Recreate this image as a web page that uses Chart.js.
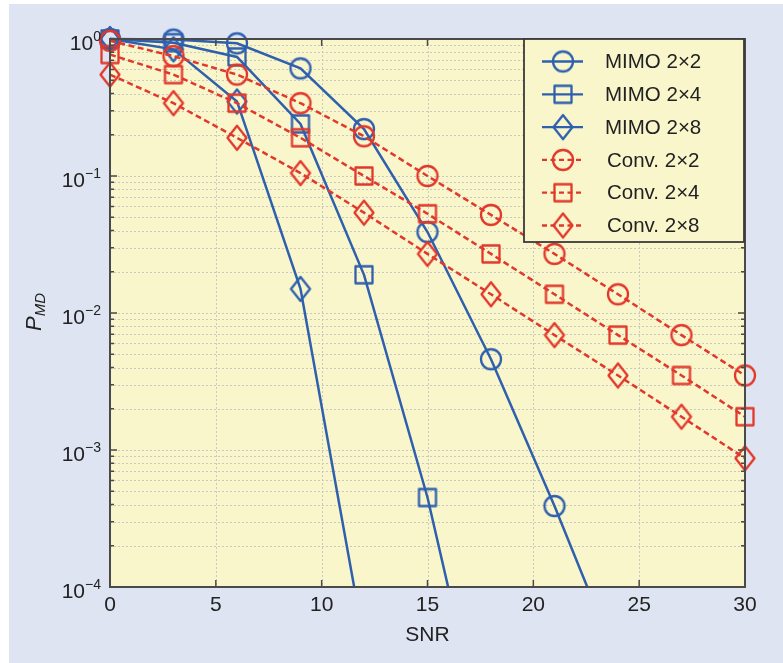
<!DOCTYPE html>
<html>
<head>
<meta charset="utf-8">
<title>P_MD vs SNR</title>
<script src="https://cdn.jsdelivr.net/npm/chart.js@4/dist/chart.umd.min.js"></script>
<style>
  html, body { margin: 0; padding: 0; background: #fff; }
  #panel { position: absolute; left: 9px; top: 4px; width: 774px; height: 659px; background: #dfe4f2; }
  #plot { position: absolute; left: 0; top: 0; }
</style>
</head>
<body>
<div id="panel"></div>
<canvas id="plot" width="783" height="663"></canvas>
<script>
// SNR points for each curve (MIMO curves run past the bottom of the axis)
const snrConv = [0, 3, 6, 9, 12, 15, 18, 21, 24, 27, 30];
const snrMimo2x2 = [0, 3, 6, 9, 12, 15, 18, 21, 24];
const snrMimo2x4 = [0, 3, 6, 9, 12, 15, 18];
const snrMimo2x8 = [0, 3, 6, 9, 12];

// probability of missed detection
const mimo2x2 = [1.0, 0.99, 0.93, 0.61, 0.22, 0.039, 0.0046, 0.00039, 0.000028];
const mimo2x4 = [1.0, 0.94, 0.74, 0.24, 0.019, 0.00045, 0.0000044];
const mimo2x8 = [1.0, 0.84, 0.35, 0.015, 0.00004];
const conv2x2 = [0.97, 0.75, 0.55, 0.34, 0.195, 0.10, 0.052, 0.027, 0.0137, 0.0069, 0.0035];
const conv2x4 = [0.77, 0.55, 0.34, 0.19, 0.10, 0.053, 0.027, 0.0137, 0.0069, 0.0035, 0.00175];
const conv2x8 = [0.55, 0.34, 0.19, 0.105, 0.054, 0.027, 0.0137, 0.0069, 0.0035, 0.00175, 0.00087];

const seriesNames = ["MIMO 2\u00d72", "MIMO 2\u00d74", "MIMO 2\u00d78", "Conv. 2\u00d72", "Conv. 2\u00d74", "Conv. 2\u00d78"];

// axis ticks
const xTicks = [0, 5, 10, 15, 20, 25, 30];
const yExponents = [-4, -3, -2, -1, 0];

const BLUE = "#2f60ae";
const RED = "#e2382b";
const PLOT_BG = "#f9f6cc";
const AXIS = "#4a4a4a";
const TEXT = "#222222";
const GRID = "#c8c9c0";
const FONT = '"Liberation Sans", Arial, Helvetica, sans-serif';

// marker images: open circle, square and tall diamond
function makeMarker(shape, color) {
    const c = document.createElement("canvas");
    c.width = 30;
    c.height = 30;
    const g = c.getContext("2d");
    g.strokeStyle = color;
    g.lineWidth = 2.3;
    g.lineJoin = "round";
    g.beginPath();
    if (shape === "circle") {
        g.arc(15, 15, 10, 0, Math.PI * 2);
    } else if (shape === "square") {
        g.rect(6.5, 6.5, 17, 17);
    } else {
        g.moveTo(15, 3);
        g.lineTo(24.5, 15);
        g.lineTo(15, 27);
        g.lineTo(5.5, 15);
        g.closePath();
    }
    g.stroke();
    return c;
}

function points(xs, ys) {
    return xs.map((v, i) => ({ x: v, y: ys[i] }));
}

function series(label, xs, ys, color, shape, dashed) {
    return {
        label: label,
        data: points(xs, ys),
        borderColor: color,
        borderWidth: 2.5,
        borderDash: dashed ? [6, 3.5] : [],
        pointStyle: makeMarker(shape, color),
        pointRadius: 10,
        tension: 0,
        fill: false,
        order: dashed ? 1 : 2,
        clip: { left: false, top: false, right: false, bottom: 0 },
    };
}

const datasets = [
    series(seriesNames[0], snrMimo2x2, mimo2x2, BLUE, "circle", false),
    series(seriesNames[1], snrMimo2x4, mimo2x4, BLUE, "square", false),
    series(seriesNames[2], snrMimo2x8, mimo2x8, BLUE, "diamond", false),
    series(seriesNames[3], snrConv, conv2x2, RED, "circle", true),
    series(seriesNames[4], snrConv, conv2x4, RED, "square", true),
    series(seriesNames[5], snrConv, conv2x8, RED, "diamond", true),
];

// background, dotted grid, box, ticks, labels and legend
const matlabAxes = {
    id: "matlabAxes",
    beforeDatasetsDraw(chart) {
        const { ctx, chartArea: a, scales: { x, y } } = chart;
        ctx.save();
        ctx.fillStyle = PLOT_BG;
        ctx.fillRect(a.left, a.top, a.right - a.left, a.bottom - a.top);

        ctx.strokeStyle = GRID;
        ctx.lineWidth = 1;
        ctx.setLineDash([2, 2]);
        ctx.beginPath();
        xTicks.slice(1, -1).forEach((v) => {
            const px = Math.round(x.getPixelForValue(v)) + 0.5;
            ctx.moveTo(px, a.top);
            ctx.lineTo(px, a.bottom);
        });
        yExponents.forEach((e) => {
            for (let m = 1; m <= 9; m++) {
                if (e === 0 && m > 1) break;
                if (e === -4 && m === 1) continue;
                const py = Math.round(y.getPixelForValue(m * Math.pow(10, e))) + 0.5;
                ctx.moveTo(a.left, py);
                ctx.lineTo(a.right, py);
            }
        });
        ctx.stroke();
        ctx.restore();
    },
    afterDatasetsDraw(chart) {
        const { ctx, chartArea: a, scales: { x, y } } = chart;
        ctx.save();

        // tick marks, pointing inwards on all four sides
        ctx.strokeStyle = AXIS;
        ctx.lineWidth = 1.5;
        ctx.beginPath();
        xTicks.forEach((v) => {
            const px = x.getPixelForValue(v);
            ctx.moveTo(px, a.bottom);
            ctx.lineTo(px, a.bottom - 7);
            ctx.moveTo(px, a.top);
            ctx.lineTo(px, a.top + 7);
        });
        yExponents.forEach((e) => {
            for (let m = 1; m <= 9; m++) {
                if (e === 0 && m > 1) break;
                const len = m === 1 ? 7 : 4;
                const py = y.getPixelForValue(m * Math.pow(10, e));
                ctx.moveTo(a.left, py);
                ctx.lineTo(a.left + len, py);
                ctx.moveTo(a.right, py);
                ctx.lineTo(a.right - len, py);
            }
        });
        ctx.stroke();

        // axes box
        ctx.lineWidth = 2;
        ctx.strokeRect(a.left, a.top, a.right - a.left, a.bottom - a.top);

        // x tick labels
        ctx.fillStyle = TEXT;
        ctx.font = "21px " + FONT;
        ctx.textAlign = "center";
        ctx.textBaseline = "middle";
        xTicks.forEach((v) => {
            ctx.fillText(String(v), x.getPixelForValue(v), 605);
        });

        // y tick labels as 10 with a superscript exponent
        ctx.textBaseline = "alphabetic";
        ctx.textAlign = "left";
        yExponents.forEach((e) => {
            const py = y.getPixelForValue(Math.pow(10, e));
            const sup = e === 0 ? "0" : "\u2212" + Math.abs(e);
            ctx.font = "14px " + FONT;
            const supW = ctx.measureText(sup).width;
            ctx.font = "21px " + FONT;
            const baseW = ctx.measureText("10").width;
            const right = 101;
            ctx.fillText("10", right - supW - baseW, py + 10.5);
            ctx.font = "14px " + FONT;
            ctx.fillText(sup, right - supW, py + 2);
        });

        // x axis title
        ctx.font = "21px " + FONT;
        ctx.textAlign = "center";
        ctx.textBaseline = "middle";
        ctx.fillText("SNR", (a.left + a.right) / 2, 635);

        // y axis title: italic P with subscript MD
        ctx.translate(41, 312);
        ctx.rotate(-Math.PI / 2);
        ctx.textAlign = "left";
        ctx.textBaseline = "alphabetic";
        ctx.font = "italic 22px " + FONT;
        const pW = ctx.measureText("P").width;
        ctx.font = "italic 15px " + FONT;
        const mdW = ctx.measureText("MD").width;
        const start = -(pW + mdW) / 2;
        ctx.font = "italic 22px " + FONT;
        ctx.fillText("P", start, 0);
        ctx.font = "italic 15px " + FONT;
        ctx.fillText("MD", start + pW, 4);
        ctx.restore();
    },
    afterDraw(chart) {
        const { ctx } = chart;
        const box = { left: 524, top: 39, right: 744, bottom: 242 };
        ctx.save();
        ctx.fillStyle = PLOT_BG;
        ctx.fillRect(box.left, box.top, box.right - box.left, box.bottom - box.top);
        ctx.strokeStyle = "#3a3a3a";
        ctx.lineWidth = 1.8;
        ctx.strokeRect(box.left, box.top, box.right - box.left, box.bottom - box.top);

        ctx.font = "20.5px " + FONT;
        ctx.textBaseline = "middle";
        ctx.textAlign = "left";
        chart.data.datasets.forEach((ds, i) => {
            const ry = 61.5 + i * 32.8;
            ctx.strokeStyle = ds.borderColor;
            ctx.lineWidth = 2.3;
            ctx.setLineDash(ds.borderDash.length ? [5, 3.5] : []);
            ctx.beginPath();
            ctx.moveTo(542, ry);
            ctx.lineTo(583, ry);
            ctx.stroke();
            ctx.setLineDash([]);
            const img = ds.pointStyle;
            ctx.drawImage(img, 563 - img.width / 2, ry - img.height / 2);
            ctx.fillStyle = TEXT;
            ctx.fillText(ds.label, i < 3 ? 605 : 607, ry + 1);
        });
        ctx.restore();
    },
};

new Chart(document.getElementById("plot"), {
    type: "line",
    data: { datasets: datasets },
    options: {
        responsive: false,
        animation: false,
        events: [],
        layout: { padding: { left: 110, top: 39, right: 38, bottom: 76 } },
        scales: {
            x: { type: "linear", min: 0, max: 30, display: false },
            y: { type: "logarithmic", min: 1e-4, max: 1, display: false },
        },
        plugins: {
            legend: { display: false },
            tooltip: { enabled: false },
        },
    },
    plugins: [matlabAxes],
});
</script>
</body>
</html>
